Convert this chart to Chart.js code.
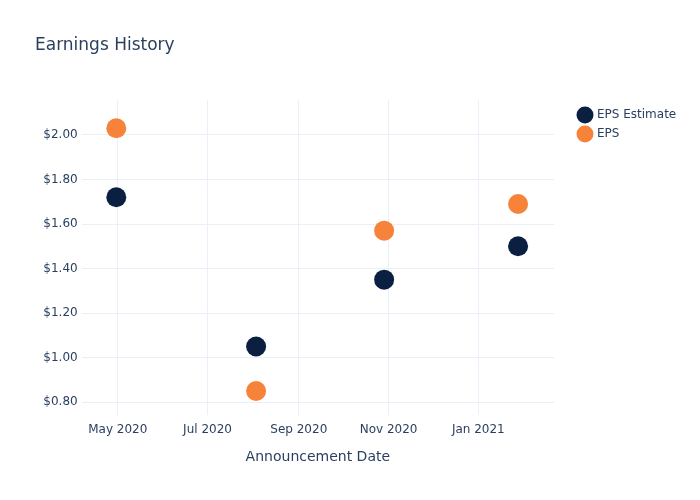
<!DOCTYPE html>
<html>
<head>
<meta charset="utf-8">
<script src="https://cdn.jsdelivr.net/npm/chart.js@4"></script>
<style>
  body { margin: 0; background: #fff; }
</style>
</head>
<body>
<canvas id="chart" width="700" height="500"></canvas>
<script>
// announcement dates and values
const dates = ['2020-04-30', '2020-08-03', '2020-10-29', '2021-01-28'];
const epsEstimate = [1.72, 1.05, 1.35, 1.50];
const eps = [2.03, 0.85, 1.57, 1.69];

// axis ticks
const xTickDates = ['2020-05-01', '2020-07-01', '2020-09-01', '2020-11-01', '2021-01-01'];
const xTickLabels = ['May 2020', 'Jul 2020', 'Sep 2020', 'Nov 2020', 'Jan 2021'];
const yTicks = [0.8, 1.0, 1.2, 1.4, 1.6, 1.8, 2.0];

const textColor = '#2a3f5f';
const gridColor = '#ebf0f8';

Chart.defaults.font.family = "'DejaVu Sans', sans-serif";
Chart.defaults.font.size = 12;
Chart.defaults.color = textColor;

function toPoints(vals) {
  return vals.map((v, i) => ({ x: Date.parse(dates[i]), y: v }));
}

// legend sits a bit to the right of the plot, like plotly
const legendShift = {
  id: 'legendShift',
  afterInit(chart) {
    const l = chart.legend;
    const fit = l.fit;
    l.fit = function () {
      fit.call(this);
      this.width = 146;
    };
  },
  afterLayout(chart) {
    const l = chart.legend;
    const w = l.width, h = l.height;
    l.left = chart.chartArea.right + 18;
    l.right = l.left + w;
    l.top = chart.chartArea.top + 2;
    l.bottom = l.top + h;
  }
};

function getChart() {
  const ctx = document.getElementById('chart').getContext('2d');
  const chart = new Chart(ctx, {
    type: 'scatter',
    data: {
      datasets: [{
        label: 'EPS Estimate',
        data: toPoints(epsEstimate),
        backgroundColor: '#0b1f41',
        borderWidth: 0,
        pointRadius: 10,
        pointHoverRadius: 10
      }, {
        label: 'EPS',
        data: toPoints(eps),
        backgroundColor: '#f7823a',
        borderWidth: 0,
        pointRadius: 10,
        pointHoverRadius: 10
      }]
    },
    options: {
      responsive: false,
      animation: false,
      layout: {
        padding: { left: 35, right: 0, top: 0, bottom: 34 }
      },
      plugins: {
        title: {
          display: true,
          text: 'Earnings History',
          align: 'start',
          color: textColor,
          font: { size: 17, weight: 'normal' },
          padding: { top: 35, bottom: 44.6 }
        },
        legend: {
          position: 'right',
          align: 'start',
          fullSize: false,
          labels: {
            usePointStyle: true,
            pointStyle: 'circle',
            padding: 7,
            color: textColor,
            font: { size: 12 }
          }
        },
        tooltip: { enabled: false }
      },
      scales: {
        x: {
          type: 'linear',
          min: Date.parse('2020-04-06T12:00:00Z'),
          max: Date.parse('2021-02-21T10:00:00Z'),
          afterBuildTicks(scale) {
            scale.ticks = xTickDates.map(d => ({ value: Date.parse(d) }));
          },
          ticks: {
            autoSkip: false,
            maxRotation: 0,
            padding: 8,
            callback: (v, i) => xTickLabels[i]
          },
          grid: { color: gridColor, drawTicks: false },
          border: { display: false },
          title: {
            display: true,
            text: 'Announcement Date',
            color: textColor,
            font: { size: 14 },
            padding: { top: 4, bottom: 0 }
          }
        },
        y: {
          min: 0.743,
          max: 2.157,
          afterBuildTicks(scale) {
            scale.ticks = yTicks.map(v => ({ value: v }));
          },
          afterFit(scale) {
            scale.width = 46.7;
          },
          ticks: {
            padding: 4,
            callback: v => '$' + v.toFixed(2)
          },
          grid: { color: gridColor, drawTicks: false },
          border: { display: false }
        }
      }
    },
    plugins: [legendShift]
  });
}

getChart();
</script>
</body>
</html>
